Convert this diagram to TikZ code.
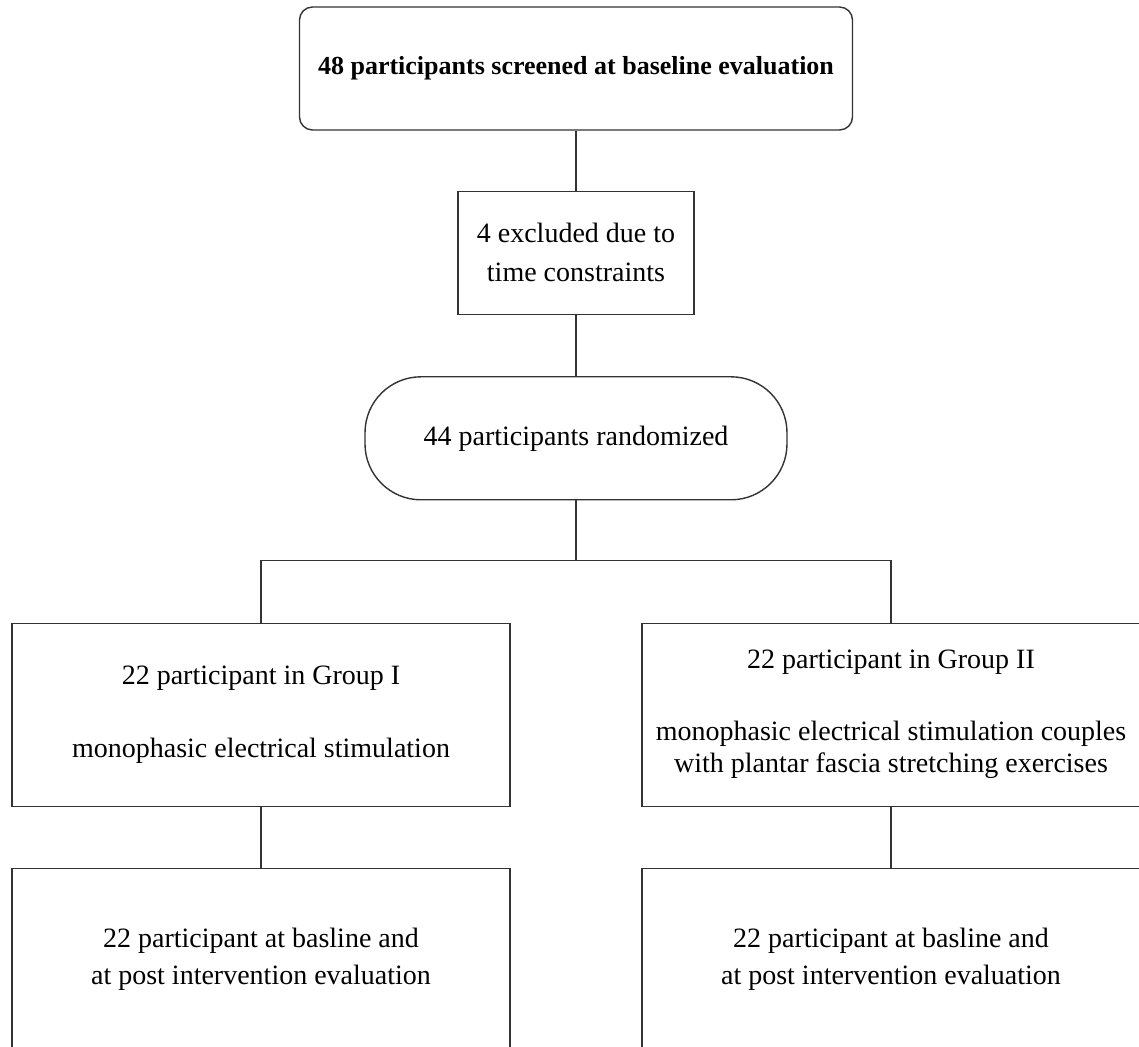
\documentclass[tikz,border=0pt]{standalone}
\usepackage{fontspec}
\setmainfont{Liberation Serif}
\usepackage{tikz}
\usetikzlibrary{positioning}
\tikzset{screenbox/.style={rectangle,rounded corners=6.5pt,draw=black!80,fill=white,line width=0.7pt,
inner sep=2pt,minimum height=61.5pt, minimum width=276.5pt,font=\fontsize{13}{16}\selectfont\bfseries}}
\tikzset{exclbox/.style={rectangle,draw=black!80,fill=white,line width=0.7pt,align=center,
inner sep=2pt,minimum height=61.5pt, minimum width=118pt,font=\fontsize{14}{19.5}\selectfont}}
\tikzset{randbox/.style={rectangle,rounded corners=28pt,draw=black!80,fill=white,line width=0.7pt,
inner sep=2pt,minimum height=61.5pt, minimum width=211pt,font=\fontsize{14}{16}\selectfont}}
\tikzset{groupbox/.style={rectangle,draw=black!80,fill=white,line width=0.7pt,align=center,
inner sep=2pt,minimum height=91.5pt, minimum width=249pt,font=\fontsize{14}{16}\selectfont}}
\tikzset{evalbox/.style={rectangle,draw=black!80,fill=white,line width=0.7pt,align=center,
inner sep=2pt,minimum height=90.5pt, minimum width=249pt,font=\fontsize{14}{18.5}\selectfont}}
\tikzset{link/.style={draw=black!80,line width=0.7pt}}

\begin{document}
\begin{tikzpicture}

        \useasboundingbox (-288pt,34.25pt) rectangle (281.5pt,-489.25pt);

        \node[screenbox] (boxTop) at (0, 0) {48 participants screened at baseline evaluation};
        \node[exclbox] (boxExcl) [below=30pt of boxTop] {4 excluded due to\\time constraints};
        \node[randbox] (boxRand) [below=30.5pt of boxExcl] {44 participants randomized};

        \node[groupbox] (boxGrpA) [below=61pt of boxRand, xshift=-157.5pt] {22 participant in Group I\\[20.5pt]monophasic electrical stimulation};
        \node[groupbox] (boxGrpB) [below=61pt of boxRand, xshift=157.5pt] {22 participant in Group II\\[20pt]monophasic electrical stimulation couples\\with plantar fascia stretching exercises};

        \node[evalbox] (boxEvalA) [below=30.5pt of boxGrpA] {22 participant at basline and\\at post intervention evaluation};
        \node[evalbox] (boxEvalB) [below=30.5pt of boxGrpB] {22 participant at basline and\\at post intervention evaluation};

        \coordinate (split) at ([yshift=-30pt]boxRand.south);

        \draw [link] (boxTop) -- (boxExcl);
        \draw [link] (boxExcl) -- (boxRand);
        \draw [link] (boxRand) -- (split);
        \draw [link] (boxGrpA.north) |- (split) -| (boxGrpB.north);
        \draw [link] (boxGrpA) -- (boxEvalA);
        \draw [link] (boxGrpB) -- (boxEvalB);

    \end{tikzpicture}
\end{document}
